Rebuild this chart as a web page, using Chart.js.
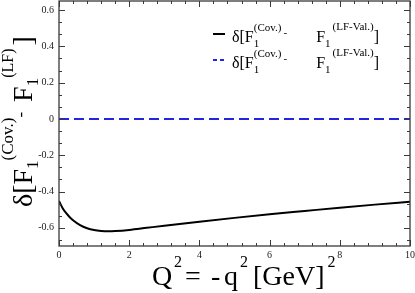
<!DOCTYPE html>
<html>
<head>
<meta charset="utf-8">
<script src="https://cdn.jsdelivr.net/npm/chart.js@4.4.0/dist/chart.umd.min.js"></script>
<style>
  html, body { margin: 0; padding: 0; background: #fff; }
  #wrap { width: 415px; height: 293px; }
</style>
</head>
<body>
<div id="wrap"><canvas id="chart" width="415" height="293"></canvas></div>
<script>
// Q^2 grid [GeV^2] and the covariant minus LF-valence difference
const q2 = [0, 0.1, 0.2, 0.3, 0.4, 0.6, 0.8, 1.0, 1.2, 1.4, 1.6, 2.0, 2.5, 3, 4, 5, 6, 7, 8, 9, 10];
const deltaLF = [-0.452, -0.49, -0.518, -0.54, -0.558, -0.585, -0.602, -0.612, -0.617, -0.619, -0.618, -0.612, -0.6, -0.588, -0.566, -0.545, -0.525, -0.507, -0.489, -0.472, -0.456];

// dashed reference series: identical by construction
const q2Val = [0, 10];
const deltaVal = [0, 0];

const xTicks = [0, 2, 4, 6, 8, 10];
const yTicks = [-0.6, -0.4, -0.2, 0, 0.2, 0.4, 0.6];

const SERIF = '"Liberation Serif", "DejaVu Serif", serif';

// draw a run of text pieces (sub/superscripts); p.x pins a piece, else it follows the previous one
function drawRich(ctx, parts) {
  let x = 0;
  parts.forEach(p => {
    ctx.font = p.s + 'px ' + SERIF;
    if (p.x !== undefined) x = p.x;
    x += p.gap || 0;
    ctx.fillText(p.t, x, p.dy || 0);
    if (!p.stay) x += ctx.measureText(p.t).width;
  });
}

const frame = {
  id: 'frame',
  afterDraw(chart) {
    const { ctx, chartArea: a, scales } = chart;
    const xs = scales.x, ys = scales.y;
    ctx.save();
    ctx.strokeStyle = '#3a3a3a';
    ctx.lineWidth = 1.3;
    ctx.strokeRect(a.left, a.top, a.right - a.left, a.bottom - a.top);

    // inward ticks on all four sides
    ctx.lineWidth = 1;
    ctx.beginPath();
    for (let v = 0; v <= 10.001; v += 0.4) {
      const px = Math.round(xs.getPixelForValue(v)) + 0.5;
      const major = Math.abs(v / 2 - Math.round(v / 2)) < 1e-6;
      const len = major ? 6 : 3;
      ctx.moveTo(px, a.bottom); ctx.lineTo(px, a.bottom - len);
      ctx.moveTo(px, a.top); ctx.lineTo(px, a.top + len);
    }
    for (let i = -11; i <= 9; i++) {
      const v = i * 0.2 / 3;
      if (v < -0.7 || v > 0.65) continue;
      const py = Math.round(ys.getPixelForValue(v)) + 0.5;
      const len = i % 3 === 0 ? 6 : 3;
      ctx.moveTo(a.left, py); ctx.lineTo(a.left + len, py);
      ctx.moveTo(a.right, py); ctx.lineTo(a.right - len, py);
    }
    ctx.stroke();

    ctx.fillStyle = '#000';
    ctx.textBaseline = 'alphabetic';
    ctx.textAlign = 'left';

    // legend
    const rows = [
      { y: 42, color: '#000', dash: [] },
      { y: 68, color: '#2424e6', dash: [4, 3] }
    ];
    rows.forEach(r => {
      ctx.save();
      ctx.strokeStyle = r.color;
      ctx.lineWidth = 2;
      ctx.setLineDash(r.dash);
      ctx.beginPath();
      ctx.moveTo(213, r.y - 8); ctx.lineTo(225, r.y - 8);
      ctx.stroke();
      ctx.restore();
      ctx.save();
      ctx.translate(232, r.y);
      drawRich(ctx, [
        { t: 'δ[F', s: 16 },
        { t: '1', s: 11, dy: 5, stay: true },
        { t: '(Cov.)', s: 11, dy: -11 },
        { t: '-', s: 11, dy: -6, gap: 2 },
        { t: 'F', s: 16, gap: 29 },
        { t: '1', s: 11, dy: 5 },
        { t: '(LF-Val.)', s: 11, dy: -12, gap: 2 },
        { t: ']', s: 16 }
      ]);
      ctx.restore();
    });

    // y title
    ctx.save();
    ctx.translate(32, 207);
    ctx.rotate(-Math.PI / 2);
    drawRich(ctx, [
      { t: 'δ[F', s: 28 },
      { t: '1', s: 17, dy: 6 },
      { t: '(Cov.)', s: 17, dy: -19 },
      { t: '-', s: 17, dy: -6 },
      { t: 'F', s: 28, gap: 10 },
      { t: '1', s: 17, dy: 6 },
      { t: '(LF)', s: 16, dy: -19 },
      { t: ']', s: 28, gap: 3 }
    ]);
    ctx.restore();

    // x title
    ctx.save();
    ctx.translate(0, 285);
    drawRich(ctx, [
      { t: 'Q', s: 28, x: 152 },
      { t: '2', s: 16, dy: -18, x: 174 },
      { t: '=', s: 28, x: 185 },
      { t: '-', s: 28, x: 211 },
      { t: 'q', s: 28, x: 224 },
      { t: '2', s: 16, dy: -18, x: 240 },
      { t: '[GeV]', s: 28, x: 253 },
      { t: '2', s: 16, dy: -18, gap: 3 }
    ]);
    ctx.restore();
    ctx.restore();
  }
};

new Chart(document.getElementById('chart'), {
  type: 'line',
  data: {
    datasets: [
      {
        label: 'cov - LF-val',
        data: q2.map((x, i) => ({ x, y: deltaLF[i] })),
        borderColor: '#000',
        borderWidth: 2,
        pointRadius: 0,
        cubicInterpolationMode: 'monotone',
        fill: false
      },
      {
        label: 'cov - LF-val (dashed)',
        data: q2Val.map((x, i) => ({ x, y: deltaVal[i] })),
        borderColor: '#2424e6',
        borderWidth: 2,
        borderDash: [10, 5],
        pointRadius: 0,
        fill: false
      }
    ]
  },
  options: {
    responsive: false,
    animation: false,
    layout: { padding: { left: 0, right: 5, top: 1, bottom: 0 } },
    plugins: { legend: { display: false }, tooltip: { enabled: false } },
    scales: {
      x: {
        type: 'linear',
        min: 0, max: 10,
        afterBuildTicks: s => { s.ticks = xTicks.map(v => ({ value: v })); },
        afterFit: s => { s.height = 47; s.paddingLeft = 0; s.paddingRight = 0; },
        grid: { display: false, drawTicks: false },
        border: { display: false },
        ticks: { padding: 3, color: '#222', maxRotation: 0, font: { family: SERIF, size: 10 } }
      },
      y: {
        min: -0.7, max: 0.65,
        afterBuildTicks: s => { s.ticks = yTicks.map(v => ({ value: v })); },
        afterFit: s => { s.width = 59; s.paddingTop = 0; s.paddingBottom = 0; },
        grid: { display: false, drawTicks: false },
        border: { display: false },
        ticks: {
          padding: 5, color: '#222', font: { family: SERIF, size: 10 },
          callback: v => Math.abs(v) < 1e-9 ? '0' : v.toFixed(1)
        }
      }
    }
  },
  plugins: [frame]
});
</script>
</body>
</html>
